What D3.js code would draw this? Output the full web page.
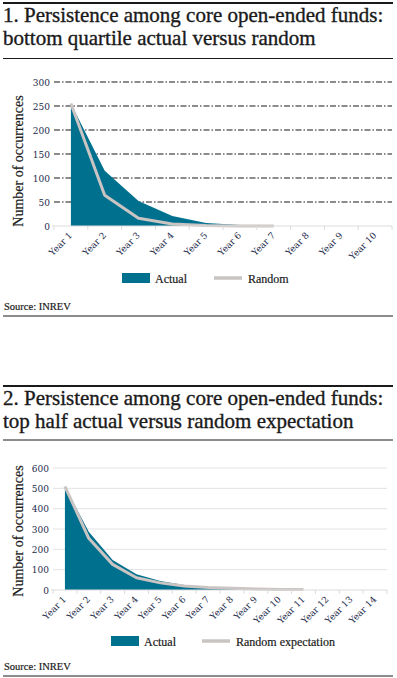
<!DOCTYPE html>
<html>
<head>
<meta charset="utf-8">
<script src="https://cdn.jsdelivr.net/npm/d3@7"></script>
<style>
  body { margin: 0; background: #fff; }
  svg { display: block; }
  text { font-family: "Liberation Serif", "DejaVu Serif", serif; }
  .tick-lab { font-family: "DejaVu Serif", serif; }
</style>
</head>
<body>
<svg id="chart" width="397" height="678"></svg>
<script>
// chart 1: bottom quartile
var years1 = ["Year 1","Year 2","Year 3","Year 4","Year 5","Year 6","Year 7","Year 8","Year 9","Year 10"];
var actual1 = [255, 115, 52, 21, 6, 2, 1];
var random1 = [255, 64, 16, 4, 1, 0, 0];
var yTicks1 = [0, 50, 100, 150, 200, 250, 300];

// chart 2: top half
var years2 = ["Year 1","Year 2","Year 3","Year 4","Year 5","Year 6","Year 7","Year 8","Year 9","Year 10","Year 11","Year 12","Year 13","Year 14"];
var actual2 = [508, 287, 148, 77, 44, 25, 12, 5, 2, 1, 0];
var random2 = [510, 254, 126, 60, 35, 20, 12, 8, 5, 3, 2];
var yTicks2 = [0, 100, 200, 300, 400, 500, 600];

var teal = "#00708f", grey = "#cac4c3", navy = "#1d2b4a";
var svg = d3.select("#chart");

function panel(o) {
  var g = svg.append("g").attr("transform", "translate(0," + o.top + ")");

  g.append("line").attr("x1", 3).attr("x2", 393).attr("y1", 1).attr("y2", 1)
    .attr("stroke", "#1a1a1a").attr("stroke-width", 2);
  g.selectAll(".title").data(o.title).enter().append("text")
    .attr("x", 3).attr("y", function(d, i) { return 20 + i * 23; })
    .attr("font-size", "21px").attr("fill", "#1a1a1a")
    .attr("stroke", "#1a1a1a").attr("stroke-width", 0.35)
    .text(function(d) { return d; });
  g.append("line").attr("x1", 3).attr("x2", 393).attr("y1", o.rule).attr("y2", o.rule)
    .attr("stroke", "#1a1a1a").attr("stroke-width", 1);

  var x = d3.scaleBand().domain(o.years).range([o.x0, o.x1]);
  var y = d3.scaleLinear().domain([0, o.max]).range([o.y1, o.y0]);
  var cx = function(d, i) { return x(o.years[i]) + x.bandwidth() / 2; };

  // gridlines
  g.append("g").selectAll("line").data(o.ticks.slice(1)).enter().append("line")
    .attr("x1", o.x0).attr("x2", o.x1)
    .attr("y1", function(d) { return y(d); }).attr("y2", function(d) { return y(d); })
    .attr("stroke", o.dashed ? "#1a1a1a" : "#e2e2e2")
    .attr("stroke-width", o.dashed ? 1.2 : 1)
    .attr("stroke-dasharray", o.dashed ? "6,2,1.5,2" : null);

  // y tick labels
  g.append("g").selectAll("text").data(o.ticks).enter().append("text")
    .attr("class", "tick-lab")
    .attr("x", o.x0 - 4).attr("y", function(d) { return y(d) + 3.5; })
    .attr("text-anchor", "end").attr("font-size", "9px").attr("fill", navy)
    .text(function(d) { return d; });

  g.append("text").attr("transform", "translate(" + 23 + "," + o.ymid + ") rotate(-90)")
    .attr("text-anchor", "middle").attr("font-size", "14px").attr("fill", "#1a1a1a")
    .attr("stroke", "#1a1a1a").attr("stroke-width", 0.2)
    .text("Number of occurrences");

  // area + line
  var area = d3.area().x(cx).y0(y(0)).y1(function(d) { return y(d); });
  g.append("path").datum(o.actual).attr("d", area).attr("fill", teal);
  var line = d3.line().x(cx).y(function(d) { return y(d); });
  g.append("path").datum(o.random).attr("d", line).attr("fill", "none")
    .attr("stroke", grey).attr("stroke-width", 3).attr("stroke-linejoin", "round");

  // x axis
  var ax = g.append("g").attr("transform", "translate(0," + o.y1 + ")");
  ax.append("line").attr("x1", o.x0 - 2).attr("x2", o.x1).attr("stroke", "#dcdcdc");
  ax.selectAll(".tk").data(o.years.concat(["end"])).enter().append("line")
    .attr("x1", function(d, i) { return o.x0 + i * x.bandwidth(); })
    .attr("x2", function(d, i) { return o.x0 + i * x.bandwidth(); })
    .attr("y1", 0).attr("y2", 4).attr("stroke", "#dcdcdc");
  ax.selectAll("text").data(o.years).enter().append("text")
    .attr("class", "tick-lab")
    .attr("transform", function(d) {
      return "translate(" + (x(d) + x.bandwidth() / 2 + 2) + "," + 10 + ") rotate(-45)";
    })
    .attr("text-anchor", "end").attr("font-size", "9px").attr("fill", navy)
    .text(function(d) { return d; });

  // legend
  var lg = g.append("g").attr("transform", "translate(0," + o.legY + ")");
  lg.append("rect").attr("x", o.legX).attr("y", -5).attr("width", 28).attr("height", 10).attr("fill", teal);
  lg.append("text").attr("x", o.legX + 33).attr("y", 4.5).attr("font-size", "12px").attr("fill", "#1a1a1a")
    .attr("stroke", "#1a1a1a").attr("stroke-width", 0.2).text("Actual");
  lg.append("line").attr("x1", o.legX2).attr("x2", o.legX2 + 28).attr("stroke", grey).attr("stroke-width", 3.5);
  lg.append("text").attr("x", o.legX2 + 34).attr("y", 4.5).attr("font-size", "12px").attr("fill", "#1a1a1a")
    .attr("stroke", "#1a1a1a").attr("stroke-width", 0.2).text(o.randLabel);

  g.append("text").attr("x", 4).attr("y", o.srcY).attr("font-size", "10.5px").attr("fill", "#1a1a1a")
    .attr("stroke", "#1a1a1a").attr("stroke-width", 0.2).text("Source: INREV");
  g.append("line").attr("x1", 3).attr("x2", 393).attr("y1", o.srcY + 6).attr("y2", o.srcY + 6)
    .attr("stroke", "#1a1a1a").attr("stroke-width", 1);
}

panel({
  top: 2, title: ["1. Persistence among core open-ended funds:", "bottom quartile actual versus random"],
  rule: 56.5, years: years1, actual: actual1, random: random1, ticks: yTicks1, max: 300,
  x0: 54, x1: 392, y0: 80, y1: 224, dashed: true, ymid: 159,
  legY: 276, legX: 122, legX2: 214, randLabel: "Random", srcY: 308
});

panel({
  top: 385, title: ["2. Persistence among core open-ended funds:", "top half actual versus random expectation"],
  rule: 55, years: years2, actual: actual2, random: random2, ticks: yTicks2, max: 600,
  x0: 53, x1: 387, y0: 83, y1: 205, dashed: false, ymid: 146,
  legY: 256, legX: 111, legX2: 202, randLabel: "Random expectation", srcY: 285
});
</script>
</body>
</html>
